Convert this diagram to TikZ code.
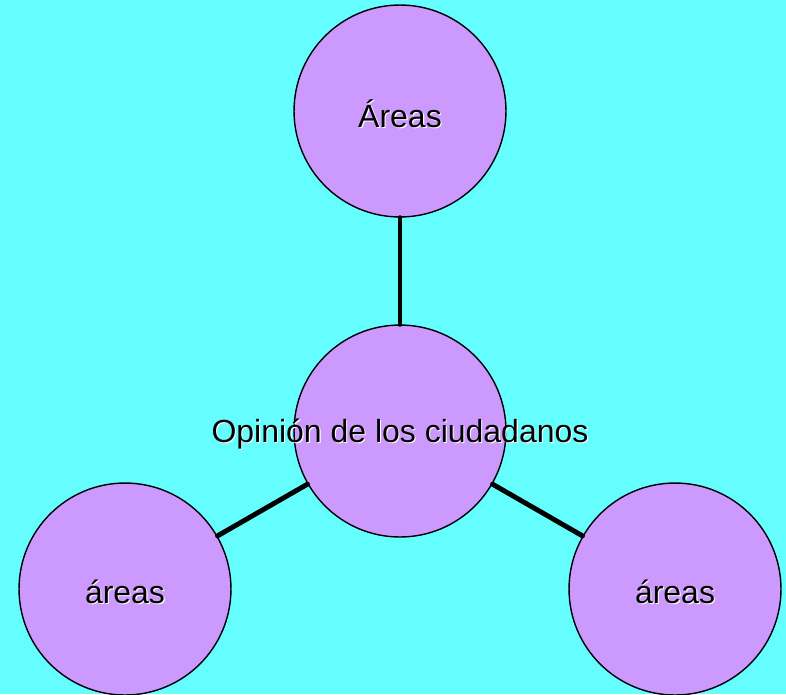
\documentclass[tikz,border=0pt]{standalone}
\usepackage{fontspec}
\setmainfont{Liberation Sans}
\definecolor{nen}{HTML}{66FFFF}
\definecolor{tim}{HTML}{CC99FF}
\newcommand\chubong[1]{\makebox[0pt][l]{\hspace{0.6pt}\raisebox{-0.6pt}{\color{white}#1}}#1}
\begin{document}
\begin{tikzpicture}[x=0.02cm, y=-0.02cm, line join = round, line cap = round]
\tikzset{
  vong/.style = {circle, draw, fill=tim, line width=0.8pt, minimum size=4.24cm, inner sep=0pt},
  chu/.style = {font=\fontsize{18.2}{20}\selectfont, yshift=-0.07cm},
  noi/.style = {line width=2.8pt}
}
%Nền
\fill[nen] (0,0) rectangle (786,694);
\useasboundingbox (0,0) rectangle (786,694);
%Các vòng tròn
\node[vong, label={[chu]center:\chubong{Opinión de los ciudadanos}}] (giua) at (400,431) {};
\node[vong, label={[chu]center:\chubong{Áreas}}] (tren) at (400,111) {};
\node[vong, label={[chu]center:\chubong{áreas}}] (trai) at (125,589) {};
\node[vong, label={[chu]center:\chubong{áreas}}] (phai) at (675,589) {};
%Đường nối
\draw[noi] (giua)--(tren);
\draw[noi] (giua)--(trai);
\draw[noi] (giua)--(phai);
\end{tikzpicture}
\end{document}
